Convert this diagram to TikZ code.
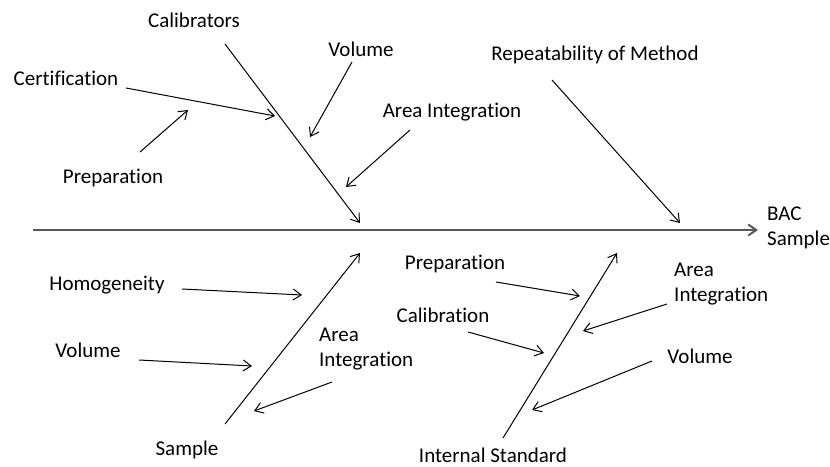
\documentclass[tikz,border=0pt]{standalone}
\usepackage{fontspec}
\setmainfont[Ligatures={NoCommon}]{Carlito}
\usetikzlibrary{arrows.meta}

\begin{document}
\begin{tikzpicture}[x=1pt,y=-1pt,
    txt/.style={inner sep=0pt,font=\fontsize{21}{25}\selectfont},
    cause/.style={-{Straight Barb[length=8pt,width=11pt]},line width=1pt},
    spine/.style={-{Straight Barb[length=8pt,width=11pt]},line width=2pt,draw=black!65}]
        \useasboundingbox (0,0) rectangle (830,466);

        % labels above the spine
        \node[txt] (calib) at (194,20) {Calibrators};
        \node[txt] (cert) at (66,78) {Certification};
        \node[txt] (prepa) at (113,178) {Preparation};
        \node[txt] (vola) at (361,49) {Volume};
        \node[txt] (areaa) at (452,112) {Area Integration};
        \node[txt] (repeat) at (595,55) {Repeatability of Method};
        \node[txt,anchor=west,align=left] (bac) at (767,228) {BAC\\Sample};

        % labels below the spine
        \node[txt] (sample) at (187,450) {Sample};
        \node[txt] (homog) at (107,285) {Homogeneity};
        \node[txt] (volb) at (88,350) {Volume};
        \node[txt,anchor=west,align=left] (areab) at (319,349) {Area\\Integration};
        \node[txt] (intstd) at (493,455) {Internal Standard};
        \node[txt] (prepb) at (455,264) {Preparation};
        \node[txt] (calibb) at (443,315) {Calibration};
        \node[txt,anchor=west,align=left] (areac) at (674,284) {Area\\Integration};
        \node[txt] (volc) at (700,356) {Volume};

        \coordinate (tail) at (33,230);
        \coordinate (head) at (758,230);
        \draw[spine] (tail) -- (head);

        \foreach \n/\p/\q in {calib/{225,44}/{360,223}, cert/{126,88}/{275,116},
            prepa/{140,152}/{188,110}, vola/{352,62}/{310,137}, areaa/{410,130}/{346,187},
            repeat/{552,80}/{680,223}, sample/{225,424}/{360,253}, homog/{182,289}/{302,295},
            volb/{139,360}/{252,366}, areab/{332,382}/{254,411}, intstd/{503,438}/{617,253},
            prepb/{496,282}/{580,296}, calibb/{468,332}/{544,353}, areac/{667,304}/{583,331},
            volc/{652,361}/{532,410}}{
            \coordinate (\n-s) at (\p);
            \coordinate (\n-e) at (\q);
            \draw[cause] (\n-s) -- (\n-e);
        }
    \end{tikzpicture}
\end{document}
